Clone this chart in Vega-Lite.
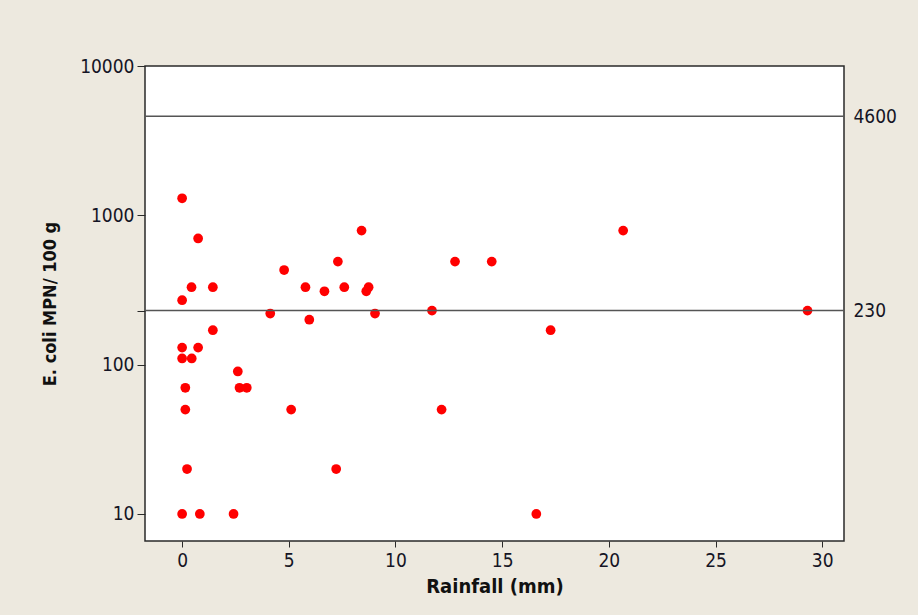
{
  "$schema": "https://vega.github.io/schema/vega-lite/v6.json",
  "autosize": "none",
  "padding": {"left": 145, "top": 66, "right": 74, "bottom": 74},
  "width": 699,
  "height": 475,
  "background": "#ede9df",
  "config": {
    "view": {"fill": "white", "stroke": "#2a2a2a", "strokeWidth": 1.5},
    "axis": {
      "labelFont": "DejaVu Sans Condensed",
      "labelFontSize": 19,
      "labelColor": "#151525",
      "titleFont": "DejaVu Sans Condensed",
      "titleFontWeight": "bold",
      "titleColor": "#111",
      "tickColor": "#2a2a2a",
      "grid": false,
      "domain": false
    }
  },
  "layer": [
    {
      "data": {
        "values": [
          {"rain": 0, "ecoli": 1300},
          {"rain": 0.75, "ecoli": 700},
          {"rain": 0.44, "ecoli": 330},
          {"rain": 1.44, "ecoli": 330},
          {"rain": 0, "ecoli": 270},
          {"rain": 4.78, "ecoli": 430},
          {"rain": 5.78, "ecoli": 330},
          {"rain": 6.67, "ecoli": 310},
          {"rain": 7.3, "ecoli": 490},
          {"rain": 7.6, "ecoli": 330},
          {"rain": 8.41, "ecoli": 790},
          {"rain": 8.74, "ecoli": 330},
          {"rain": 8.63, "ecoli": 310},
          {"rain": 9.04, "ecoli": 220},
          {"rain": 4.13, "ecoli": 220},
          {"rain": 5.96, "ecoli": 200},
          {"rain": 1.44, "ecoli": 170},
          {"rain": 0, "ecoli": 130},
          {"rain": 0.75, "ecoli": 130},
          {"rain": 0, "ecoli": 110},
          {"rain": 0.45, "ecoli": 110},
          {"rain": 2.61, "ecoli": 90},
          {"rain": 2.69, "ecoli": 70},
          {"rain": 3.03, "ecoli": 70},
          {"rain": 0.15, "ecoli": 70},
          {"rain": 0.15, "ecoli": 50},
          {"rain": 5.11, "ecoli": 50},
          {"rain": 0.23, "ecoli": 20},
          {"rain": 7.22, "ecoli": 20},
          {"rain": 0, "ecoli": 10},
          {"rain": 0.83, "ecoli": 10},
          {"rain": 2.41, "ecoli": 10},
          {"rain": 11.71, "ecoli": 230},
          {"rain": 12.79, "ecoli": 490},
          {"rain": 14.51, "ecoli": 490},
          {"rain": 17.27, "ecoli": 170},
          {"rain": 12.16, "ecoli": 50},
          {"rain": 16.6, "ecoli": 10},
          {"rain": 20.67, "ecoli": 790},
          {"rain": 29.31, "ecoli": 230}
        ]
      },
      "mark": {"type": "circle", "color": "#ff0000", "opacity": 1, "size": 95},
      "encoding": {
        "x": {
          "field": "rain",
          "type": "quantitative",
          "scale": {"domain": [-1.74, 31.02], "nice": false, "zero": false},
          "axis": {
            "values": [0, 5, 10, 15, 20, 25, 30],
            "title": "Rainfall (mm)",
            "titleFontSize": 20,
            "titlePadding": 6,
            "tickSize": 6,
            "labelPadding": 4
          }
        },
        "y": {
          "field": "ecoli",
          "type": "quantitative",
          "scale": {"type": "log", "domain": [6.59, 10000], "nice": false},
          "axis": {
            "orient": "left",
            "values": [10, 100, 230, 1000, 10000],
            "labelExpr": "datum.value == 230 ? '' : format(datum.value, 'd')",
            "title": "E. coli MPN/ 100 g",
            "titleFontSize": 18,
            "titlePadding": 20,
            "tickSize": 8,
            "labelPadding": 3
          }
        }
      }
    },
    {
      "data": {"values": [{"limit": 230}, {"limit": 4600}]},
      "mark": {"type": "rule", "color": "#555555", "strokeWidth": 1.5},
      "encoding": {
        "y": {
          "field": "limit",
          "type": "quantitative",
          "axis": {
            "orient": "right",
            "values": [230, 4600],
            "format": "d",
            "title": null,
            "ticks": false,
            "labelPadding": 9
          }
        }
      }
    }
  ],
  "resolve": {"axis": {"y": "independent"}}
}
